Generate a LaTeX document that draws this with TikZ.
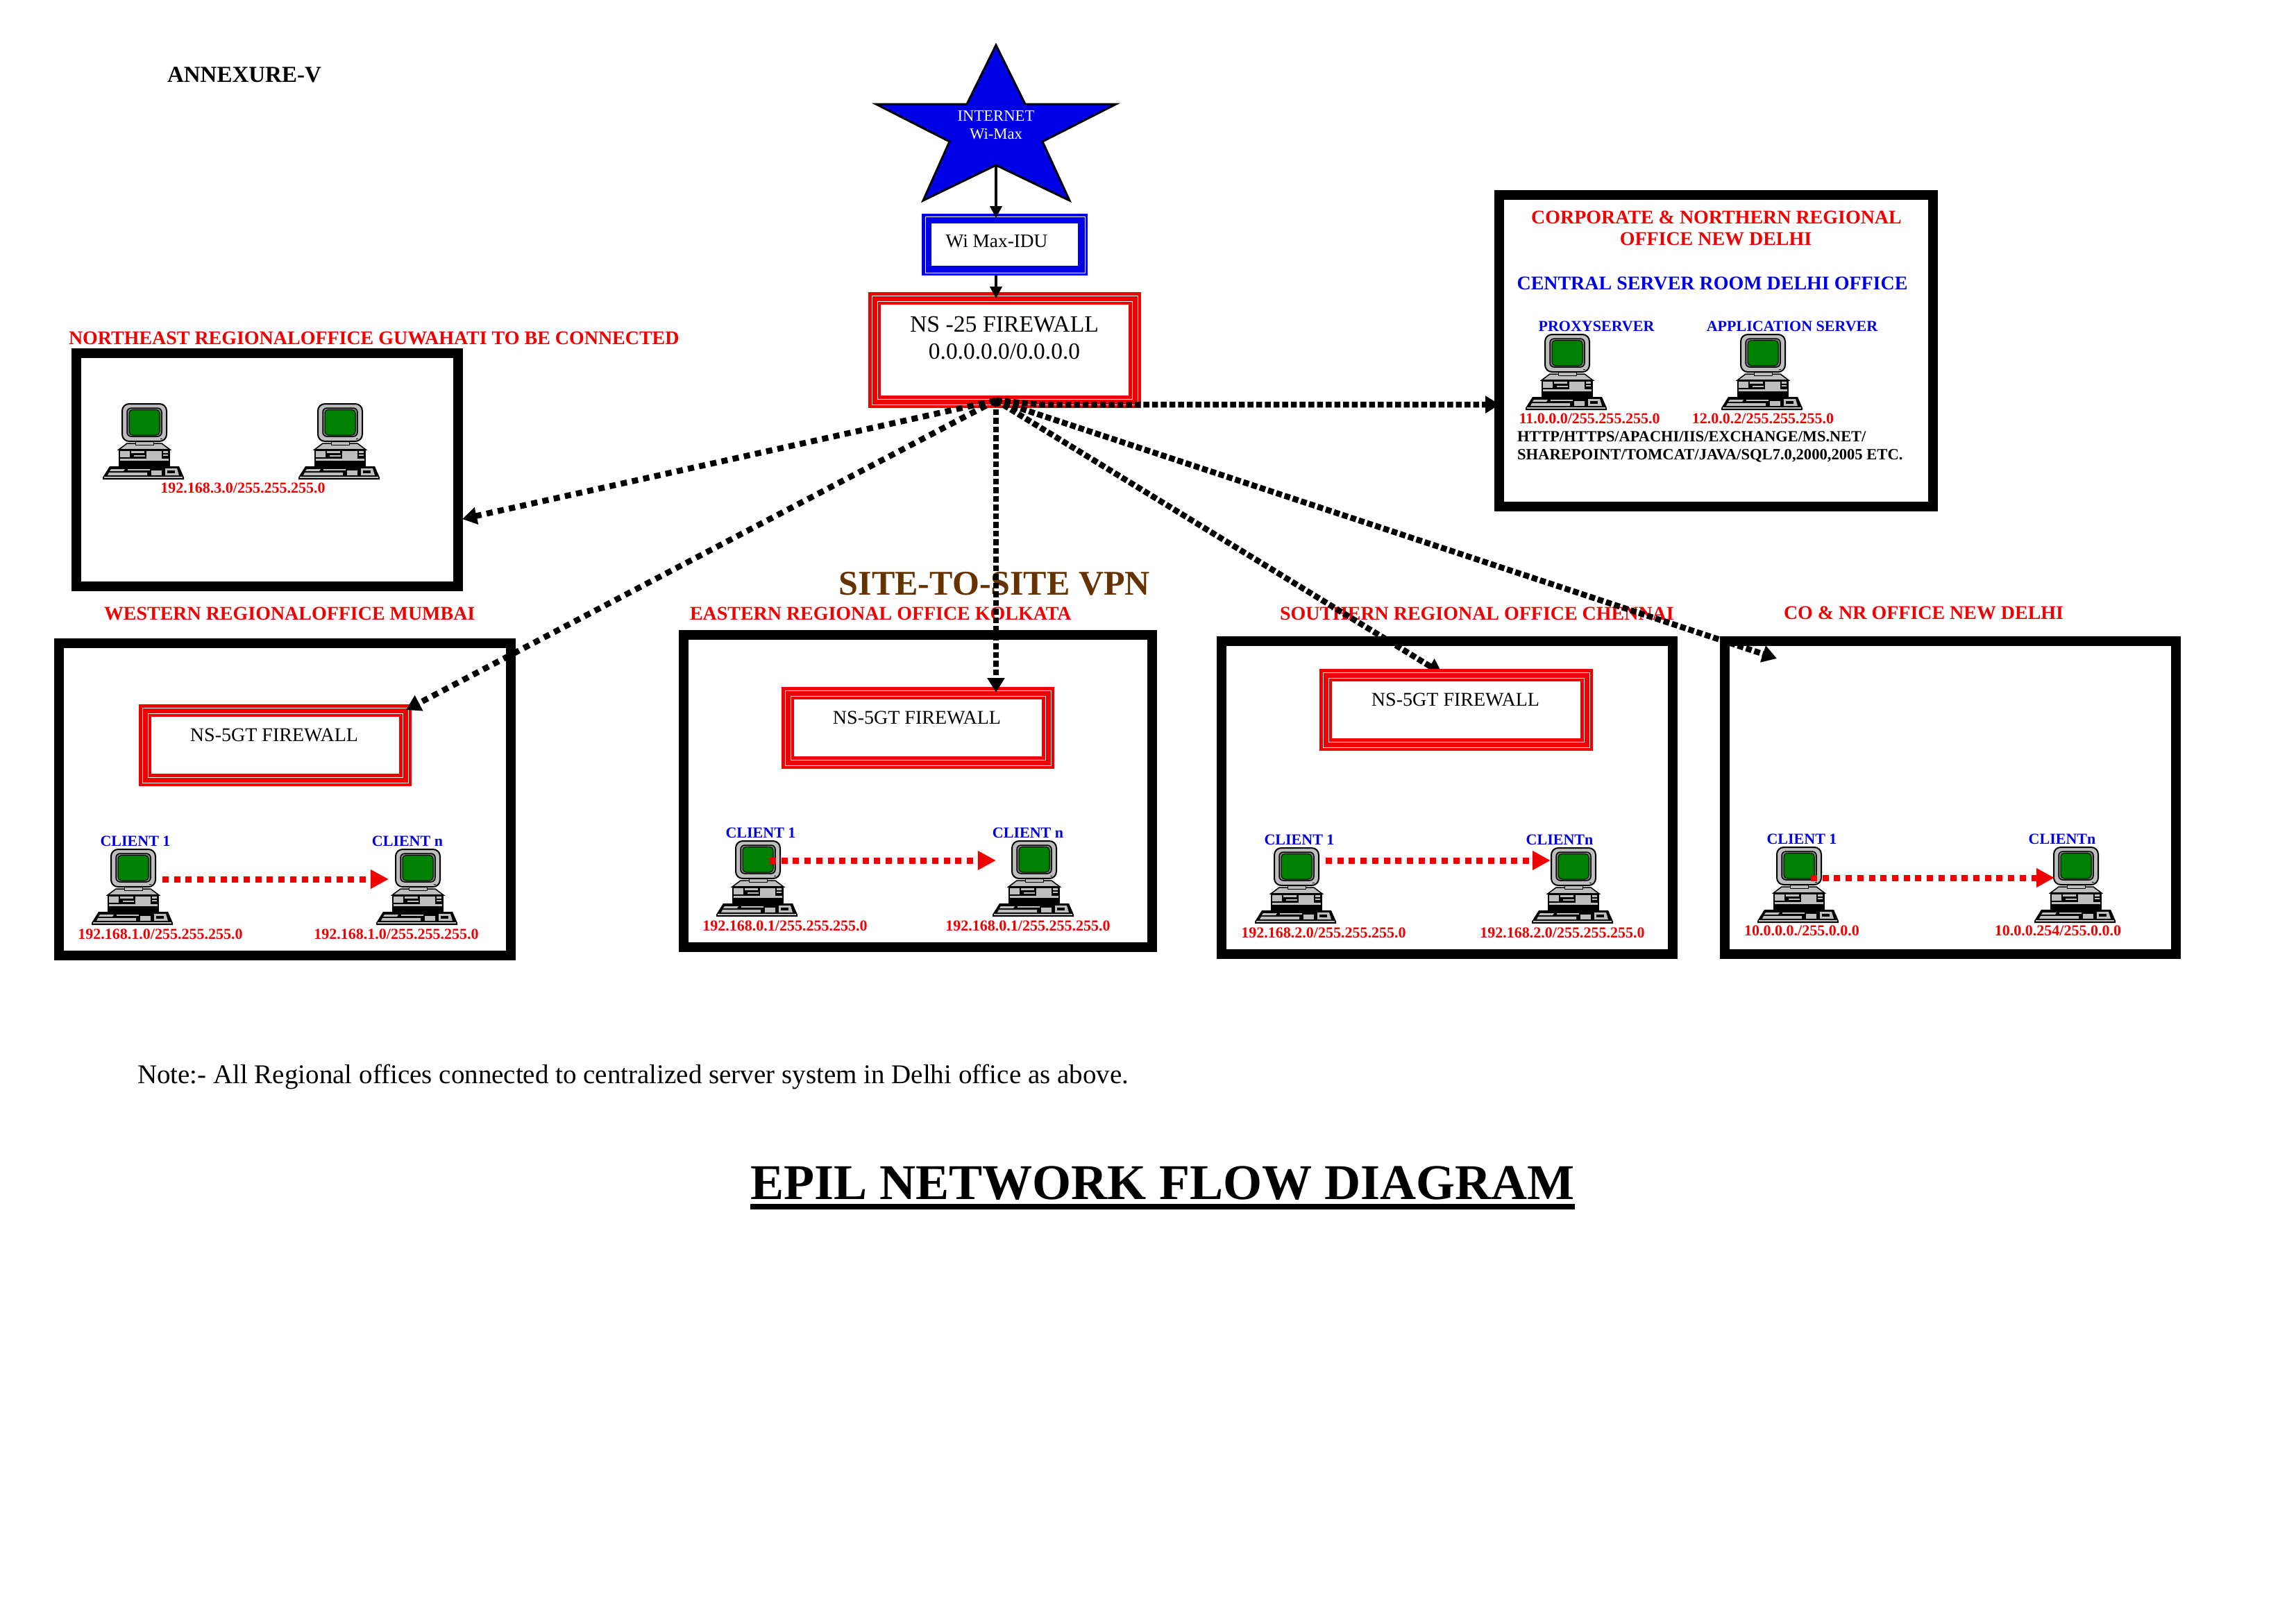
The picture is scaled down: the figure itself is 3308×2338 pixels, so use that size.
\documentclass[tikz,border=0pt]{standalone}
\usepackage{fontspec}
\setmainfont{Liberation Serif}
\usetikzlibrary{arrows.meta,calc}
\definecolor{myred}{RGB}{240,0,0}
\definecolor{myblue}{RGB}{0,0,230}
\definecolor{pcgreen}{RGB}{0,128,0}
\definecolor{pcgray}{RGB}{190,190,190}
\definecolor{vpnbrown}{RGB}{102,51,0}
\newcommand{\pxfont}[1]{\fontsize{#1}{#1}\selectfont}
\tikzset{
  txt/.style={inner sep=0pt,outer sep=0pt,anchor=base,align=center},
  lab/.style={txt,font=\pxfont{7.95}\bfseries,text=myred},
  ipt/.style={txt,font=\pxfont{6.26}\bfseries,text=myred},
  cli/.style={txt,font=\pxfont{6.26}\bfseries,text=myblue},
  fwt/.style={txt,font=\pxfont{7.97}},
  region/.style={draw=black,line width=1.4mm,fill=white,inner sep=0pt,outer sep=0pt},
  ddot/.style={draw=black,line width=0.85mm,dash pattern=on 0.85mm off 0.4mm,-{Triangle[length=2.1mm,width=2.4mm]}},
  ddotwide/.style={ddot,dash pattern=on 0.9mm off 0.75mm},
  rdot/.style={draw=myred,line width=0.9mm,dash pattern=on 0.9mm off 0.77mm,-{Triangle[length=2.6mm,width=2.6mm]},myred},
  solidar/.style={draw=black,line width=0.4mm,-{Triangle[length=1.7mm,width=1.7mm]}},
  pc/.pic={
    % keyboard
    \fill[black] (10,90) -- (110,90) -- (117,106) -- (117,109) -- (0,109) -- (0,106) -- cycle;
    \fill[pcgray] (2,105) -- (115,105) -- (115,107) -- (2,107) -- cycle;
    \fill[pcgray] (12,94) -- (32,94) -- (30,97) -- (10,97) -- cycle;
    \fill[pcgray] (9,99) -- (64,99) -- (64,103) -- (7,103) -- cycle;
    \fill[pcgray] (36,94) -- (68,94) -- (68,96) -- (36,96) -- cycle;
    \fill[pcgray] (70,96) -- (85,96) -- (85,103) -- (70,103) -- cycle;
    \fill[pcgray] (90,93) -- (107,93) -- (110,103) -- (90,103) -- cycle;
    \fill[black] (93,96) rectangle (104,100);
    % case
    \filldraw[draw=black,fill=pcgray,line width=0.15mm] (35,57) -- (85,57) -- (97,66) -- (23,66) -- cycle;
    \fill[black] (23,65) rectangle (97,90);
    \fill[pcgray] (25,68) rectangle (39,77);
    \fill[pcgray] (25,79) rectangle (95,82);
    \fill[pcgray] (41,68) rectangle (60,71);
    \fill[pcgray] (45,74) rectangle (61,76);
    \fill[pcgray] (63,68) rectangle (85,79);
    \fill[pcgray] (87,68) rectangle (94,71);
    \fill[pcgray] (87,73) rectangle (94,75);
    % neck
    \filldraw[draw=black,fill=pcgray,line width=0.1mm] (47,52) rectangle (73,59);
    % monitor
    \filldraw[draw=black,fill=pcgray,line width=0.2mm,rounded corners=1mm] (28,0) rectangle (92,54);
    \filldraw[draw=black,fill=gray,line width=0.15mm,rounded corners=0.6mm] (35,6) rectangle (85,47);
    \filldraw[draw=black,fill=pcgreen,line width=0.1mm,rounded corners=0.5mm] (38,8.5) rectangle (82,45);
    \fill[black] (83,50) rectangle (86,51);
  }
}
\newcommand{\dframe}[5]{% name x1 y1 x2 y2 : red triple frame
  \pgfmathsetmacro{\fwcx}{(#2+#4)/2}\pgfmathsetmacro{\fwcy}{(#3+#5)/2}
  \pgfmathsetmacro{\fww}{(#4-#2)*0.01}\pgfmathsetmacro{\fwh}{(#5-#3)*0.01}
  \node[fill=myred,inner sep=0pt,outer sep=0pt,minimum width=\fww cm,minimum height=\fwh cm] (#1) at (\fwcx,\fwcy) {};
  \draw[white,line width=0.08mm] (#2+5,#3+5) rectangle (#4-5,#5-5);
  \draw[white,line width=0.08mm] (#2+13,#3+13) rectangle (#4-13,#5-13);
  \fill[white] (#2+18,#3+18) rectangle (#4-18,#5-18);
}
\newcommand{\regbox}[5]{% name x1 y1 x2 y2 outer
  \pgfmathsetmacro{\fwcx}{(#2+#4)/2}\pgfmathsetmacro{\fwcy}{(#3+#5)/2}
  \pgfmathsetmacro{\fww}{(#4-#2-14)*0.01}\pgfmathsetmacro{\fwh}{(#5-#3-14)*0.01}
  \node[region,minimum width=\fww cm,minimum height=\fwh cm] (#1) at (\fwcx,\fwcy) {};
}
\begin{document}
\begin{tikzpicture}[x=0.01cm,y=-0.01cm]
\useasboundingbox[fill=white] (0,0) rectangle (3308,2338);

\node[txt,font=\pxfont{9.39}\bfseries] (annex) at (352,118) {ANNEXURE-V};

% star
\filldraw[fill=myblue,draw=black,line width=0.3mm,line join=miter]
 (1435,65) -- (1477,150) -- (1608,150) -- (1502,204) -- (1541,289) -- (1435,238)
 -- (1330,289) -- (1368,204) -- (1262,150) -- (1393,150) -- cycle;
\node[txt,font=\pxfont{6.45},text=white] (inet) at (1435,174) {INTERNET};
\node[txt,font=\pxfont{6.45},text=white] (wimax) at (1435,200) {Wi-Max};
\coordinate (starfoot) at (1435,238);

% Wi-Max IDU
\node[fill=myblue,inner sep=0pt,outer sep=0pt,minimum width=2.39cm,minimum height=0.89cm] (idu) at (1447.5,352.5) {};
\draw[white,line width=0.08mm] (1333,312) rectangle (1563,393);
\fill[white] (1342,322) rectangle (1553,383);
\node[txt,font=\pxfont{7.77}] (idut) at (1436,356) {Wi Max-IDU};
\coordinate (idutop) at (1435,314);
\coordinate (idufoot) at (1435,397);

% NS-25
\dframe{ns25}{1251}{421}{1644}{588}
\node[txt,font=\pxfont{9.6}] (ns25a) at (1447,478) {NS -25 FIREWALL};
\node[txt,font=\pxfont{9.5}] (ns25b) at (1447,517) {0.0.0.0.0/0.0.0.0};
\coordinate (nstop) at (1435,430);
\coordinate (hub) at (1435,577);

% central office
\regbox{central}{2153}{274}{2792}{737}
\node[lab] (c1) at (2473,322) {CORPORATE \& NORTHERN REGIONAL};
\node[lab] (c2) at (2472,353) {OFFICE NEW DELHI};
\node[lab,text=myblue] (c3) at (2467,417) {CENTRAL SERVER ROOM DELHI OFFICE};
\node[cli] (c4) at (2300,477) {PROXYSERVER};
\node[cli] (c5) at (2582,477) {APPLICATION SERVER};
\pic at (2198,482) {pc};
\pic at (2480,482) {pc};
\node[ipt] (c6) at (2290,610) {11.0.0.0/255.255.255.0};
\node[ipt] (c7) at (2540,610) {12.0.0.2/255.255.255.0};
\node[txt,anchor=base west,font=\pxfont{6.36}\bfseries] (c8) at (2186,636) {HTTP/HTTPS/APACHI/IIS/EXCHANGE/MS.NET/};
\node[txt,anchor=base west,font=\pxfont{6.43}\bfseries] (c9) at (2186,662) {SHAREPOINT/TOMCAT/JAVA/SQL7.0,2000,2005 ETC.};
\coordinate (centraltip) at (2161,583);

% northeast
\node[lab,anchor=base west] (nel) at (99,496) {NORTHEAST REGIONALOFFICE GUWAHATI TO BE CONNECTED};
\regbox{ne}{103}{502}{667}{852}
\pic at (148,582) {pc};
\pic at (430,582) {pc};
\node[ipt] (neip) at (350,710) {192.168.3.0/255.255.255.0};
\coordinate (netip) at (666,748);

% western
\node[lab,anchor=base west] (wl) at (150,893) {WESTERN REGIONALOFFICE MUMBAI};
\regbox{west}{78}{920}{743}{1384}
\dframe{wfw}{200}{1015}{593}{1133}
\node[fwt] (wft) at (395,1068) {NS-5GT FIREWALL};
\node[cli] (wc1) at (195,1219) {CLIENT 1};
\node[cli] (wc2) at (587,1219) {CLIENT n};
\pic at (132,1224) {pc};
\pic at (542,1224) {pc};
\node[ipt] (wi1) at (231,1353) {192.168.1.0/255.255.255.0};
\node[ipt] (wi2) at (571,1353) {192.168.1.0/255.255.255.0};
\coordinate (wa) at (234,1267);
\coordinate (wb) at (560,1267);
\coordinate (wtip) at (585,1023);

% eastern
\node[lab,anchor=base west] (el) at (994,893) {EASTERN REGIONAL OFFICE KOLKATA};
\regbox{east}{978}{908}{1667}{1372}
\dframe{efw}{1126}{990}{1519}{1108}
\node[fwt] (eft) at (1321,1043) {NS-5GT FIREWALL};
\node[cli] (ec1) at (1096,1207) {CLIENT 1};
\node[cli] (ec2) at (1481,1207) {CLIENT n};
\pic at (1032,1212) {pc};
\pic at (1430,1212) {pc};
\node[ipt] (ei1) at (1131,1341) {192.168.0.1/255.255.255.0};
\node[ipt] (ei2) at (1481,1341) {192.168.0.1/255.255.255.0};
\coordinate (ea) at (1109,1240);
\coordinate (eb) at (1435,1240);
\coordinate (etip) at (1435,998);

% southern
\node[lab,anchor=base west] (sl) at (1844,893) {SOUTHERN REGIONAL OFFICE CHENNAI};
\regbox{south}{1753}{917}{2417}{1382}
\coordinate (stip) at (2078,971);
\draw[ddot] (hub) -- (stip);
\dframe{sfw}{1901}{964}{2295}{1082}
\node[fwt] (sft) at (2097,1017) {NS-5GT FIREWALL};
\node[cli] (sc1) at (1872,1217) {CLIENT 1};
\node[cli] (sc2) at (2247,1217) {CLIENTn};
\pic at (1808,1222) {pc};
\pic at (2207,1222) {pc};
\node[ipt] (si1) at (1907,1351) {192.168.2.0/255.255.255.0};
\node[ipt] (si2) at (2251,1351) {192.168.2.0/255.255.255.0};
\coordinate (sa) at (1910,1240);
\coordinate (sb) at (2234,1240);

% CO NR
\node[lab,anchor=base west] (nl) at (2570,892) {CO \& NR OFFICE NEW DELHI};
\regbox{co}{2478}{917}{3142}{1382}
\node[cli] (nc1) at (2596,1216) {CLIENT 1};
\node[cli] (nc2) at (2971,1216) {CLIENTn};
\pic at (2532,1221) {pc};
\pic at (2931,1221) {pc};
\node[ipt] (ni1) at (2596,1348) {10.0.0.0./255.0.0.0};
\node[ipt] (ni2) at (2965,1348) {10.0.0.254/255.0.0.0};
\coordinate (na) at (2609,1265);
\coordinate (nb) at (2960,1265);
\coordinate (ntip) at (2560,949);

% texts
\node[txt,font=\pxfont{14.23}\bfseries,text=vpnbrown] (vpn) at (1433,857) {SITE-TO-SITE VPN};
\node[txt,anchor=base west,font=\pxfont{11.09}] (note) at (198,1561) {Note:- All Regional offices connected to centralized server system in Delhi office as above.};
\node[txt,font=\pxfont{20.5}\bfseries] (title) at (1675,1728) {EPIL NETWORK FLOW DIAGRAM};
\draw[line width=0.8mm] ($(title.base west)+(0,11)$) -- ($(title.base east)+(0,11)$);

% connectors
\draw[solidar] (starfoot) -- (idutop);
\draw[solidar] (idufoot) -- (nstop);
\draw[ddot] (hub) -- (1500,583) -- (centraltip);
\draw[ddotwide] (hub) -- (netip);
\draw[ddotwide] (hub) -- (wtip);
\draw[ddot] (hub) -- (etip);
\draw[ddot] (hub) -- (ntip);
\draw[rdot] (wa) -- (wb);
\draw[rdot] (ea) -- (eb);
\draw[rdot] (sa) -- (sb);
\draw[rdot] (na) -- (nb);
\end{tikzpicture}
\end{document}
